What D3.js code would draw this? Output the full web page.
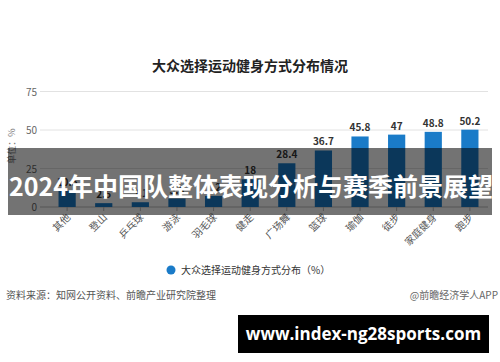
<!DOCTYPE html>
<html>
<head>
<meta charset="utf-8">
<script src="https://cdn.jsdelivr.net/npm/d3@7"></script>
<style>
  body { margin: 0; background: #fff; }
  svg { display: block; font-family: "Noto Sans CJK SC", "Noto Sans", sans-serif; }
</style>
</head>
<body>
<svg id="chart" width="500" height="362"></svg>
<script>
// Data
const categories = ["其他", "登山", "乒乓球", "游泳", "羽毛球", "健走", "广场舞", "篮球", "瑜伽", "徒步", "家庭健身", "跑步"];
const values = [10.5, 2.5, 3.1, 5.5, 7.2, 18, 28.4, 36.7, 45.8, 47, 48.8, 50.2];
const yTicks = [0, 25, 50, 75];

const data = categories.map((c, i) => ({ name: c, value: values[i] }));

const svg = d3.select("#chart");
const blue = "#1a7bc8";

const x = d3.scaleBand().domain(categories).range([49, 488]).paddingInner(0.53).paddingOuter(0.26);
const y = d3.scaleLinear().domain([0, 75]).range([207, 91.5]);

// Title
svg.append("text")
  .attr("x", 250).attr("y", 71)
  .attr("text-anchor", "middle")
  .attr("font-size", 14).attr("font-weight", "bold").attr("fill", "#222")
  .text("大众选择运动健身方式分布情况");

// Grid + y tick labels
svg.selectAll("line.grid")
  .data(yTicks).join("line").attr("class", "grid")
  .attr("x1", 40).attr("x2", 488)
  .attr("y1", d => y(d)).attr("y2", d => y(d))
  .attr("stroke", d => d === 0 ? "#bbb" : "#e2e2e2").attr("stroke-width", 1);

svg.selectAll("text.ytick")
  .data(yTicks).join("text").attr("class", "ytick")
  .attr("x", 37).attr("y", d => y(d) + 4)
  .attr("text-anchor", "end").attr("font-size", 10).attr("fill", "#666")
  .text(d => d);

// Y axis title
svg.append("text")
  .attr("transform", "translate(15,146) rotate(-90)")
  .attr("text-anchor", "middle")
  .attr("font-size", 9).attr("fill", "#777")
  .text("单位：%");

// Bars
svg.selectAll("rect.bar")
  .data(data).join("rect").attr("class", "bar")
  .attr("x", d => x(d.name))
  .attr("y", d => y(d.value))
  .attr("width", x.bandwidth())
  .attr("height", d => y(0) - y(d.value))
  .attr("fill", blue);

// Value labels
svg.selectAll("text.value")
  .data(data).join("text").attr("class", "value")
  .attr("x", d => x(d.name) + x.bandwidth() / 2)
  .attr("y", d => y(d.value) - 5)
  .attr("text-anchor", "middle").attr("font-size", 10).attr("font-weight", "bold").attr("fill", "#333")
  .text(d => d.value);

// X tick marks and rotated labels
svg.selectAll("line.xtick")
  .data(categories).join("line").attr("class", "xtick")
  .attr("x1", d => x(d) + x.bandwidth() / 2).attr("x2", d => x(d) + x.bandwidth() / 2)
  .attr("y1", y(0)).attr("y2", y(0) + 4)
  .attr("stroke", "#bbb");

svg.selectAll("text.xlabel")
  .data(categories).join("text").attr("class", "xlabel")
  .attr("transform", d => `translate(${x(d) + x.bandwidth() / 2 + 4},${y(0) + 11}) rotate(-45)`)
  .attr("text-anchor", "end").attr("font-size", 10).attr("fill", "#555")
  .text(d => d);

// Legend
svg.append("circle").attr("cx", 171).attr("cy", 270).attr("r", 4.5).attr("fill", blue);
svg.append("text")
  .attr("x", 181).attr("y", 274)
  .attr("font-size", 10).attr("fill", "#333")
  .text("大众选择运动健身方式分布（%）");

// Source line
svg.append("text")
  .attr("x", 6).attr("y", 299)
  .attr("font-size", 10).attr("fill", "#555")
  .text("资料来源：知网公开资料、前瞻产业研究院整理");
svg.append("text")
  .attr("x", 498).attr("y", 299)
  .attr("text-anchor", "end")
  .attr("font-size", 10).attr("fill", "#666")
  .text("@前瞻经济学人APP");

// Dark overlay band with headline
svg.append("rect")
  .attr("x", 8).attr("y", 148).attr("width", 484).attr("height", 67)
  .attr("fill", "#000").attr("opacity", 0.55);
svg.append("text")
  .attr("x", 251).attr("y", 196)
  .attr("text-anchor", "middle")
  .attr("font-size", 25).attr("font-weight", "bold").attr("fill", "#fff")
  .text("2024年中国队整体表现分析与赛季前景展望");

// Website box
svg.append("rect")
  .attr("x", 238).attr("y", 315).attr("width", 251).attr("height", 38)
  .attr("fill", "#000");
svg.append("text")
  .attr("x", 363.5).attr("y", 340)
  .attr("text-anchor", "middle")
  .attr("font-size", 17).attr("font-weight", "bold").attr("fill", "#fff")
  .attr("font-family", "'Open Sans', 'Noto Sans', sans-serif")
  .text("www.index-ng28sports.com");
</script>
</body>
</html>
